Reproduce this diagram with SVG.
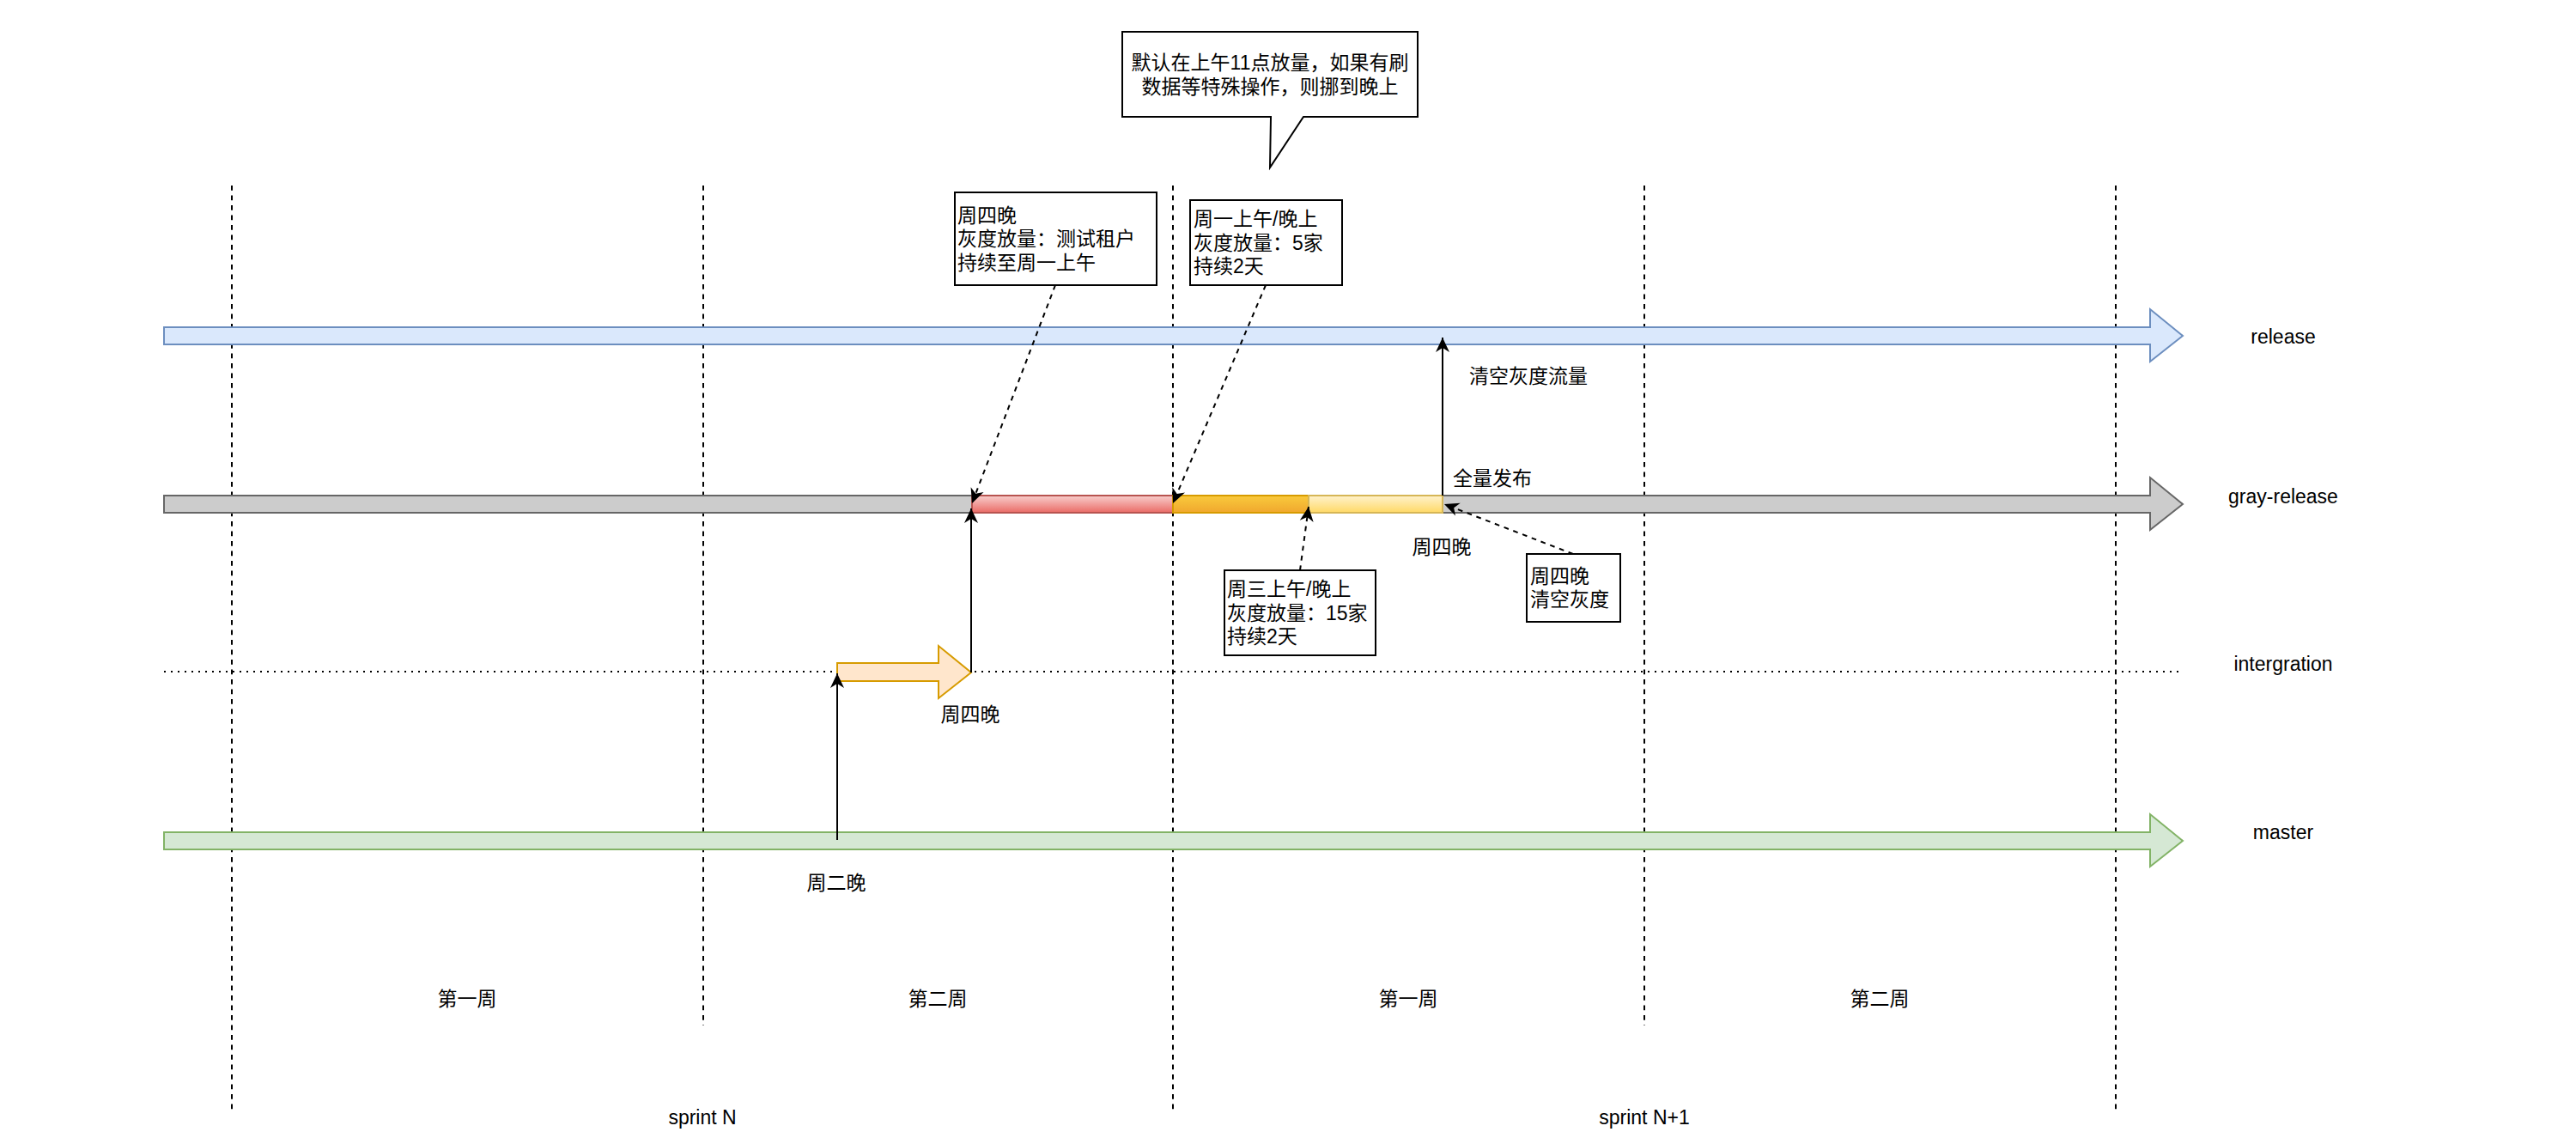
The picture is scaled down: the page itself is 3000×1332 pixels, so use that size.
<svg xmlns="http://www.w3.org/2000/svg" width="3000" height="1332" viewBox="0 0 3000 1332">
<style>
text{font-family:"Liberation Sans","Noto Sans CJK SC",sans-serif;font-size:23px;fill:#000}
.mid{text-anchor:middle}
.grid{stroke:#000;stroke-width:2;stroke-dasharray:5.75 5.75;fill:none}
.box{fill:#fff;stroke:#000;stroke-width:2}
.edge{stroke:#000;stroke-width:2;fill:none}
.dash{stroke-dasharray:5.75 5.75}
</style>
<defs>
<marker id="ah" viewBox="-18 -9 19 18" refX="0" refY="0" markerWidth="19" markerHeight="18" markerUnits="userSpaceOnUse" orient="auto"><path d="M0,0 L-17,-8 L-12,0 L-17,8 Z" fill="#000"/></marker>
<linearGradient id="gRed" x1="0" y1="0" x2="0" y2="1"><stop offset="0" stop-color="#f8cecc"/><stop offset="1" stop-color="#ea6b66"/></linearGradient>
<linearGradient id="gOrange" x1="0" y1="0" x2="0" y2="1"><stop offset="0" stop-color="#f9ca3c"/><stop offset="1" stop-color="#f0a72e"/></linearGradient>
<linearGradient id="gYellow" x1="0" y1="0" x2="0" y2="1"><stop offset="0" stop-color="#fff2cc"/><stop offset="1" stop-color="#ffd966"/></linearGradient>
</defs>
<rect width="3000" height="1332" fill="#fff"/>

<g id="grid-lines">
<line class="grid" x1="270" y1="216" x2="270" y2="1293"/>
<line class="grid" x1="819" y1="216" x2="819" y2="1194"/>
<line class="grid" x1="1366" y1="216" x2="1366" y2="1293"/>
<line class="grid" x1="1915" y1="216" x2="1915" y2="1194"/>
<line class="grid" x1="2464" y1="216" x2="2464" y2="1293"/>
</g>

<g id="release-arrow">
<path d="M191,381 H2504 V360 L2542,391 L2504,421 V401 H191 Z" fill="#dae8fc" stroke="#6c8ebf" stroke-width="2"/>
</g>
<g id="gray-release-arrow">
<path d="M191,577 H2504 V556 L2542,587 L2504,617 V597 H191 Z" fill="#cccccc" stroke="#666666" stroke-width="2"/>
</g>
<g id="intergration-line">
<line x1="191" y1="782" x2="2539" y2="782" stroke="#000" stroke-width="2" stroke-dasharray="2 6"/>
</g>
<g id="master-arrow">
<path d="M191,969 H2504 V948 L2542,979 L2504,1009 V989 H191 Z" fill="#d5e8d4" stroke="#82b366" stroke-width="2"/>
</g>

<g id="seg-red"><rect x="1132" y="577" width="234" height="20" fill="url(#gRed)" stroke="#b85450" stroke-width="2"/></g>
<g id="seg-orange"><rect x="1366" y="577" width="158" height="20" fill="url(#gOrange)" stroke="#d79b00" stroke-width="2"/></g>
<g id="seg-yellow"><rect x="1524" y="577" width="156" height="20" fill="url(#gYellow)" stroke="#d6b656" stroke-width="2"/></g>

<g id="integration-block">
<path d="M975,772 H1093 V752 L1131,783 L1093,813 V793 H975 Z" fill="#ffe6cc" stroke="#d79b00" stroke-width="2"/>
</g>

<g id="connectors">
<line class="edge" x1="975" y1="978" x2="975" y2="784" marker-end="url(#ah)"/>
<line class="edge" x1="1131" y1="783" x2="1131" y2="592" marker-end="url(#ah)"/>
<line class="edge" x1="1680" y1="577" x2="1680" y2="393" marker-end="url(#ah)"/>
<line class="edge dash" x1="1229" y1="332" x2="1132" y2="586" marker-end="url(#ah)"/>
<line class="edge dash" x1="1474" y1="332" x2="1366" y2="586" marker-end="url(#ah)"/>
<line class="edge dash" x1="1514" y1="664" x2="1524" y2="590" marker-end="url(#ah)"/>
<line class="edge dash" x1="1832" y1="645" x2="1682" y2="587" marker-end="url(#ah)"/>
</g>

<g id="callout">
<path class="box" d="M1307,37 H1651 V136 H1518 L1479,195 L1480,136 H1307 Z"/>
<text class="mid" x="1479" y="81">默认在上午11点放量，如果有刷</text>
<text class="mid" x="1479" y="108.5">数据等特殊操作，则挪到晚上</text>
</g>

<g id="box-thu-test">
<rect class="box" x="1112" y="224" width="235" height="108"/>
<text x="1115" y="258.5">周四晚</text>
<text x="1115" y="286">灰度放量：测试租户</text>
<text x="1115" y="313.5">持续至周一上午</text>
</g>

<g id="box-mon-5">
<rect class="box" x="1386" y="233" width="177" height="99"/>
<text x="1390" y="263">周一上午/晚上</text>
<text x="1390" y="290.5">灰度放量：5家</text>
<text x="1390" y="318">持续2天</text>
</g>

<g id="box-wed-15">
<rect class="box" x="1426" y="664" width="176" height="99"/>
<text x="1429" y="694">周三上午/晚上</text>
<text x="1429" y="721.5">灰度放量：15家</text>
<text x="1429" y="749">持续2天</text>
</g>

<g id="box-thu-clear">
<rect class="box" x="1778" y="645" width="109" height="79"/>
<text x="1782" y="678.5">周四晚</text>
<text x="1782" y="706">清空灰度</text>
</g>

<g id="labels">
<text class="mid" x="2659" y="400">release</text>
<text class="mid" x="2659" y="586">gray-release</text>
<text class="mid" x="2659" y="781">intergration</text>
<text class="mid" x="2659" y="977">master</text>
<text class="mid" x="1780" y="446">清空灰度流量</text>
<text x="1692" y="565">全量发布</text>
<text class="mid" x="1679" y="645">周四晚</text>
<text class="mid" x="1130" y="840">周四晚</text>
<text class="mid" x="974" y="1036">周二晚</text>
<text class="mid" x="544" y="1171">第一周</text>
<text class="mid" x="1092" y="1171">第二周</text>
<text class="mid" x="1640" y="1171">第一周</text>
<text class="mid" x="2189" y="1171">第二周</text>
<text class="mid" x="818" y="1309">sprint N</text>
<text class="mid" x="1915" y="1309">sprint N+1</text>
</g>
</svg>
